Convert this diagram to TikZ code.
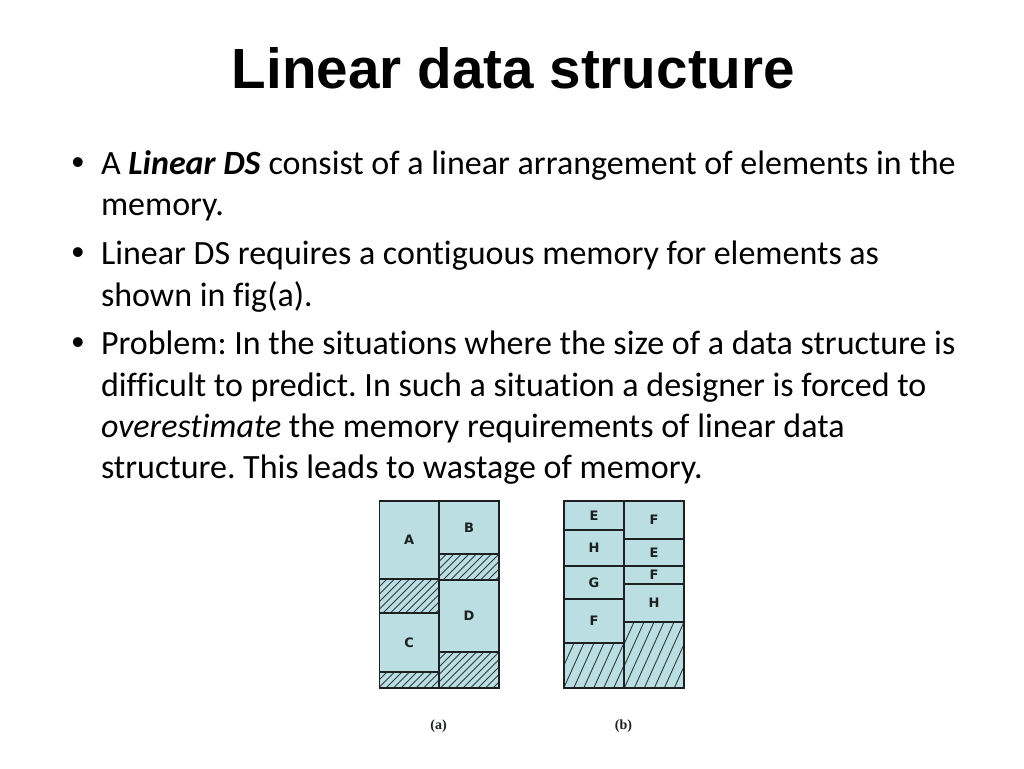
\documentclass[tikz,border=0pt]{standalone}
\usepackage{fontspec}
\setmainfont{Carlito}[Ligatures={NoCommon,NoRequired,NoContextual}]
\newfontfamily\titlefont{Liberation Sans}
\newfontfamily\boxfont{DejaVu Sans}
\newfontfamily\capfont{Liberation Serif}
\definecolor{memfill}{RGB}{186,222,226}
\definecolor{memline}{RGB}{28,32,32}
\definecolor{hatchcol}{RGB}{45,58,60}
\tikzset{
  cell/.style={draw=memline, line width=1.4pt, fill=memfill, inner sep=0pt, outer sep=0pt,
    font=\boxfont\bfseries\fontsize{13}{15}\selectfont, text=memline},
  border/.style={draw=memline, line width=1.4pt},
  hatchline/.style={draw=hatchcol, line width=0.9pt},
  bodytext/.style={anchor=base west, inner sep=0pt, outer sep=0pt, font=\fontsize{34}{41}\selectfont},
  bulletmark/.style={anchor=base, inner sep=0pt, outer sep=0pt, font=\titlefont\fontsize{36}{41}\selectfont},
  caption/.style={inner sep=0pt, font=\capfont\bfseries\fontsize{14}{16}\selectfont, text=memline}
}
% name, x1, y1, x2, y2, label
\newcommand\memcell[6]{%
  \node[cell, minimum width={#4-#2}, minimum height={#5-#3}] (#1) at ({(#2+#4)/2},{(#3+#5)/2}) {#6};}
% name, x1, y1, x2, y2, slant factor, spacing
\newcommand\memhatch[7]{%
  \node[cell, minimum width={#4-#2}, minimum height={#5-#3}] (#1) at ({(#2+#4)/2},{(#3+#5)/2}) {};
  \begin{scope}
    \clip (#1.south west) rectangle (#1.north east);
    \foreach \i in {0,...,40}
      \draw[hatchline] ({#2-#6*(#5-#3)+\i*#7},#5) -- ++({#6*(#5-#3)},{-(#5-#3)});
  \end{scope}
  \draw[border] (#1.south west) rectangle (#1.north east);}
\begin{document}
\frenchspacing
\begin{tikzpicture}[x=1pt,y=-1pt]
\useasboundingbox[fill=white] (0,0) rectangle (1024,768);

% title
\node[anchor=base, inner sep=0pt, font=\titlefont\bfseries\fontsize{56.6}{62}\selectfont] (title) at (513.5,88) {Linear data structure};

% bullets
\node[bulletmark] (m1) at (78,174) {•};
\node[bodytext] (t1) at (101,174) {A \textbf{\textit{Linear DS}} consist of a linear arrangement of elements in the};
\node[bodytext] (t2) at (101,215) {memory.};
\node[bulletmark] (m2) at (78,264) {•};
\node[bodytext] (t3) at (101,264) {Linear DS requires a contiguous memory for elements as};
\node[bodytext] (t4) at (101,306) {shown in fig(a).};
\node[bulletmark] (m3) at (78,354) {•};
\node[bodytext] (t5) at (101,354) {Problem: In the situations where the size of a data structure is};
\node[bodytext] (t6) at (101,396) {difficult to predict. In such a situation a designer is forced to};
\node[bodytext] (t7) at (101,437) {\textit{overestimate} the memory requirements of linear data};
\node[bodytext] (t8) at (101,478) {structure. This leads to wastage of memory.};

% figure (a)
\memcell{aA}{379.5}{501}{439}{579}{A}
\memhatch{ah1}{379.5}{579}{439}{613}{1}{7.5}
\memcell{aC}{379.5}{613}{439}{672}{C}
\memhatch{ah2}{379.5}{672}{439}{688}{1}{7.5}
\memcell{aB}{439}{501}{499}{554}{B}
\memhatch{ah3}{439}{554}{499}{580}{1}{7.5}
\memcell{aD}{439}{580}{499}{652}{D}
\memhatch{ah4}{439}{652}{499}{688}{1}{7.5}

% figure (b)
\memcell{bE1}{564}{501}{624}{530}{E}
\memcell{bH1}{564}{530}{624}{566}{H}
\memcell{bG1}{564}{566}{624}{599}{G}
\memcell{bF1}{564}{599}{624}{643}{F}
\memhatch{bh1}{564}{643}{624}{688}{0.45}{10}
\memcell{bF2}{624}{501}{684}{539}{F}
\memcell{bE2}{624}{539}{684}{566}{E}
\memcell{bF3}{624}{566}{684}{584}{F}
\memcell{bH2}{624}{584}{684}{622}{H}
\memhatch{bh2}{624}{622}{684}{688}{0.45}{10}

% captions
\node[caption] (capa) at (438.5,726) {(a)};
\node[caption] (capb) at (623.5,726) {(b)};
\end{tikzpicture}
\end{document}
